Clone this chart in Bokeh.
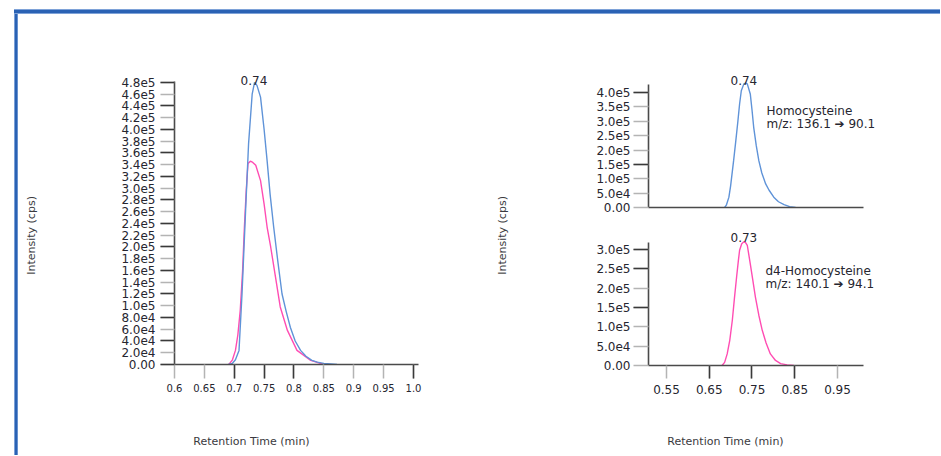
import math
from bokeh.plotting import figure
from bokeh.layouts import row, column
from bokeh.models import Range1d, LinearAxis, FixedTicker, Label, Spacer
from bokeh.embed import file_html
from bokeh.resources import INLINE

# ---------------- data ----------------
# Left overlay chromatogram (retention time in min, intensity in cps)
left_blue_t = [0.690, 0.697, 0.702, 0.708, 0.713, 0.719, 0.724, 0.730, 0.734, 0.738, 0.744, 0.750,
               0.755, 0.760, 0.766, 0.773, 0.780, 0.787, 0.794, 0.802, 0.811, 0.820, 0.830, 0.839,
               0.850, 0.862, 0.872]
left_blue_v = [0, 2.0e3, 8.0e3, 2.4e4, 1.2e5, 2.62e5, 3.76e5, 4.6e5, 4.8e5, 4.75e5, 4.55e5, 4.0e5,
               3.47e5, 2.9e5, 2.34e5, 1.75e5, 1.2e5, 9.0e4, 6.3e4, 4.0e4, 2.4e4, 1.4e4, 7.0e3, 4.0e3,
               2.0e3, 1.0e3, 0]
left_pink_t = [0.691, 0.697, 0.702, 0.706, 0.710, 0.714, 0.717, 0.720, 0.723, 0.727, 0.731, 0.736,
               0.744, 0.750, 0.755, 0.761, 0.769, 0.777, 0.789, 0.805, 0.828, 0.850]
left_pink_v = [0, 8.0e3, 2.4e4, 5.0e4, 9.2e4, 1.6e5, 2.34e5, 2.95e5, 3.42e5, 3.46e5, 3.44e5, 3.39e5,
               3.13e5, 2.73e5, 2.34e5, 2.0e5, 1.49e5, 9.8e4, 5.8e4, 2.4e4, 7.0e3, 0]

# Right top: Homocysteine
homo_t = [0.686, 0.690, 0.696, 0.700, 0.707, 0.712, 0.717, 0.721, 0.725, 0.731, 0.735, 0.739, 0.746,
          0.750, 0.754, 0.760, 0.766, 0.773, 0.782, 0.790, 0.801, 0.812, 0.825, 0.838, 0.852]
homo_v = [0, 8.0e3, 3.6e4, 7.5e4, 1.63e5, 2.3e5, 3.0e5, 3.6e5, 4.06e5, 4.3e5, 4.33e5, 4.3e5, 3.95e5,
          3.4e5, 2.79e5, 2.15e5, 1.63e5, 1.2e5, 8.2e4, 6.0e4, 3.6e4, 2.0e4, 1.0e4, 3.0e3, 0]

# Right bottom: d4-Homocysteine
d4_t = [0.680, 0.686, 0.692, 0.698, 0.704, 0.709, 0.714, 0.718, 0.721, 0.726, 0.731, 0.735, 0.739,
        0.746, 0.752, 0.758, 0.766, 0.774, 0.783, 0.793, 0.805, 0.817, 0.832, 0.848]
d4_v = [0, 8.0e3, 3.0e4, 6.5e4, 1.17e5, 1.75e5, 2.29e5, 2.7e5, 2.98e5, 3.15e5, 3.2e5, 3.18e5, 3.11e5,
        2.63e5, 2.2e5, 1.77e5, 1.3e5, 9.1e4, 5.8e4, 3.0e4, 1.3e4, 5.0e3, 1.5e3, 0]

# ticks
left_x_ticks = [0.6, 0.65, 0.7, 0.75, 0.8, 0.85, 0.9, 0.95, 1.0]
left_x_labels = ["0.6", "0.65", "0.7", "0.75", "0.8", "0.85", "0.9", "0.95", "1.0"]
left_x_dark = [0.7, 0.75, 0.8, 1.0]
left_y_ticks = [0, 2e4, 4e4, 6e4, 8e4, 1.0e5, 1.2e5, 1.4e5, 1.6e5, 1.8e5, 2.0e5, 2.2e5, 2.4e5,
                2.6e5, 2.8e5, 3.0e5, 3.2e5, 3.4e5, 3.6e5, 3.8e5, 4.0e5, 4.2e5, 4.4e5, 4.6e5, 4.8e5]
left_y_labels = ["0.00", "2.0e4", "4.0e4", "6.0e4", "8.0e4", "1.0e5", "1.2e5", "1.4e5", "1.6e5",
                 "1.8e5", "2.0e5", "2.2e5", "2.4e5", "2.6e5", "2.8e5", "3.0e5", "3.2e5", "3.4e5",
                 "3.6e5", "3.8e5", "4.0e5", "4.2e5", "4.4e5", "4.6e5", "4.8e5"]
left_y_dark = [0, 4e4, 8e4, 1.2e5, 1.6e5, 2.0e5, 2.4e5, 2.8e5, 3.2e5, 3.6e5, 4.0e5, 4.4e5, 4.8e5]

right_x_ticks = [0.55, 0.65, 0.75, 0.85, 0.95]
right_x_labels = ["0.55", "0.65", "0.75", "0.85", "0.95"]
right_x_dark = [0.65, 0.75, 0.85]
top_y_ticks = [0, 5e4, 1.0e5, 1.5e5, 2.0e5, 2.5e5, 3.0e5, 3.5e5, 4.0e5]
top_y_labels = ["0.00", "5.0e4", "1.0e5", "1.5e5", "2.0e5", "2.5e5", "3.0e5", "3.5e5", "4.0e5"]
top_y_dark = [4.0e5, 1.5e5]
bot_y_ticks = [0, 5e4, 1.0e5, 1.5e5, 2.0e5, 2.5e5, 3.0e5]
bot_y_labels = ["0.00", "5.0e4", "1.0e5", "1.5e5", "2.0e5", "2.5e5", "3.0e5"]
bot_y_dark = [3.0e5, 2.5e5, 1.5e5]

peak_left = "0.74"
peak_top = "0.74"
peak_bot = "0.73"
name_top = ["Homocysteine", "m/z: 136.1 \u2794 90.1"]
name_bot = ["d4-Homocysteine", "m/z: 140.1 \u2794 94.1"]
x_title = "Retention Time (min)"
y_title = "Intensity (cps)"

# ---------------- style ----------------
FONT = "DejaVu Sans"
TXT = "#262630"
TITLE_C = "#3a3a40"
AXIS = "#4a4a4a"
DARK = "#3a3a3a"
GRAY = "#b4b4b4"
BLUE = "#5f93d8"
PINK = "#ff4db3"


def make_fig(w, h, xr, yr, left, right, top, bottom):
    p = figure(width=w, height=h, x_range=Range1d(*xr), y_range=Range1d(*yr),
               output_backend="svg", toolbar_location=None, title=None,
               x_axis_type=None, y_axis_type=None,
               min_border_left=left, min_border_right=right,
               min_border_top=top, min_border_bottom=bottom)
    p.outline_line_color = None
    p.background_fill_color = "white"
    p.border_fill_color = "white"
    return p


def add_axis(p, side, ticks, labels, dark, size, tick_len, standoff, bounds):
    ax = LinearAxis(ticker=FixedTicker(ticks=ticks, minor_ticks=dark), bounds=bounds)
    if labels:
        ax.major_label_overrides = dict(zip(ticks, labels))
    ax.axis_line_color = AXIS
    ax.axis_line_width = 1.6
    ax.major_tick_in = 0
    ax.major_tick_out = tick_len
    ax.minor_tick_in = 0
    ax.minor_tick_out = tick_len
    ax.major_tick_line_color = GRAY
    ax.minor_tick_line_color = DARK
    ax.major_tick_line_width = 1.5
    ax.minor_tick_line_width = 1.5
    ax.major_label_text_font = FONT
    ax.major_label_text_font_size = f"{size}px"
    ax.major_label_text_color = TXT
    ax.major_label_standoff = standoff
    p.add_layout(ax, side)
    return ax


def add_text(p, x, y, text, size=12, align="left", baseline="middle", angle=0.0, y_offset=0,
             color=TXT):
    p.add_layout(Label(x=x, y=y, text=text, text_font=FONT, text_font_size=f"{size}px",
                       text_color=color, text_align=align, text_baseline=baseline,
                       angle=angle, y_offset=y_offset))


def strip(w, h):
    s = make_fig(w, h, (0, w), (0, h), 0, 0, 0, 0)
    s.min_border = 0
    return s


# ---------------- left chart ----------------
left = make_fig(436, 411, (0.6, 1.0084), (0, 5.072e5), 130, 62, 52, 61)
add_axis(left, "below", left_x_ticks, left_x_labels, left_x_dark, 10, 14, 5, (0.6, 1.0084))
add_axis(left, "left", left_y_ticks, left_y_labels, left_y_dark, 12, 14, 5, (0, 4.817e5))
left.line(left_pink_t, left_pink_v, line_color=PINK, line_width=1.4)
left.line(left_blue_t, left_blue_v, line_color=BLUE, line_width=1.4)
add_text(left, 0.733, 4.8e5, peak_left, 12, "center", "alphabetic", y_offset=2)

left_ytitle = strip(26, 411)
add_text(left_ytitle, 13, 178, y_title, 11, "center", "middle", angle=math.pi / 2, color=TITLE_C)

# ---------------- right title strip ----------------
right_ytitle = strip(40, 411)
add_text(right_ytitle, 22, 178, y_title, 11, "center", "middle", angle=math.pi / 2, color=TITLE_C)

# ---------------- right top ----------------
rx = (0.5079, 1.1442)
rx_axis = (0.5079, 1.0108)
top = make_fig(413, 208, rx, (0, 4.835e5), 128, 13, 54, 15)
add_axis(top, "below", [], [], [], 10, 0, 0, rx_axis)
add_axis(top, "left", top_y_ticks, top_y_labels, top_y_dark, 12, 15, 3, (0, 4.27e5))
top.line(homo_t, homo_v, line_color=BLUE, line_width=1.4)
add_text(top, 0.731, 4.33e5, peak_top, 12, "center", "alphabetic", y_offset=3)
add_text(top, 0.784, 3.374e5, name_top[0], 12)
add_text(top, 0.784, 2.92e5, name_top[1], 12)

# ---------------- right bottom ----------------
bot = make_fig(413, 203, rx, (0, 3.595e5), 128, 13, 4, 60)
add_axis(bot, "below", right_x_ticks, right_x_labels, right_x_dark, 12, 13, 6, rx_axis)
add_axis(bot, "left", bot_y_ticks, bot_y_labels, bot_y_dark, 12, 15, 3, (0, 3.181e5))
bot.line(d4_t, d4_v, line_color=PINK, line_width=1.4)
add_text(bot, 0.731, 3.2e5, peak_bot, 12, "center", "alphabetic", y_offset=4)
add_text(bot, 0.7816, 2.457e5, name_bot[0], 12)
add_text(bot, 0.7816, 2.095e5, name_bot[1], 12)

# ---------------- bottom strip with both x titles ----------------
xtitles = strip(915, 23)
add_text(xtitles, 233, 7, x_title, 11, "center", "middle", color=TITLE_C)
add_text(xtitles, 707, 7, x_title, 11, "center", "middle", color=TITLE_C)

# ---------------- page layout with blue frame ----------------
top_border = Spacer(width=926, height=5, styles={
    "background": "linear-gradient(#a8c2ea, #2a62b4 30%, #2a62b4 70%, #a8c2ea)"})
left_border = Spacer(width=4, height=441, styles={
    "background": "linear-gradient(to right, #a8c2ea, #2a62b4 35%, #2a62b4 75%, #a8c2ea)"})

charts = row(left_ytitle, left, right_ytitle, column(top, bot))
content = row(left_border, column(charts, xtitles))
framed = column(top_border, content)
root = column(Spacer(width=940, height=9), row(Spacer(width=14, height=446), framed))

open("out.html", "w").write(file_html(root, INLINE))
